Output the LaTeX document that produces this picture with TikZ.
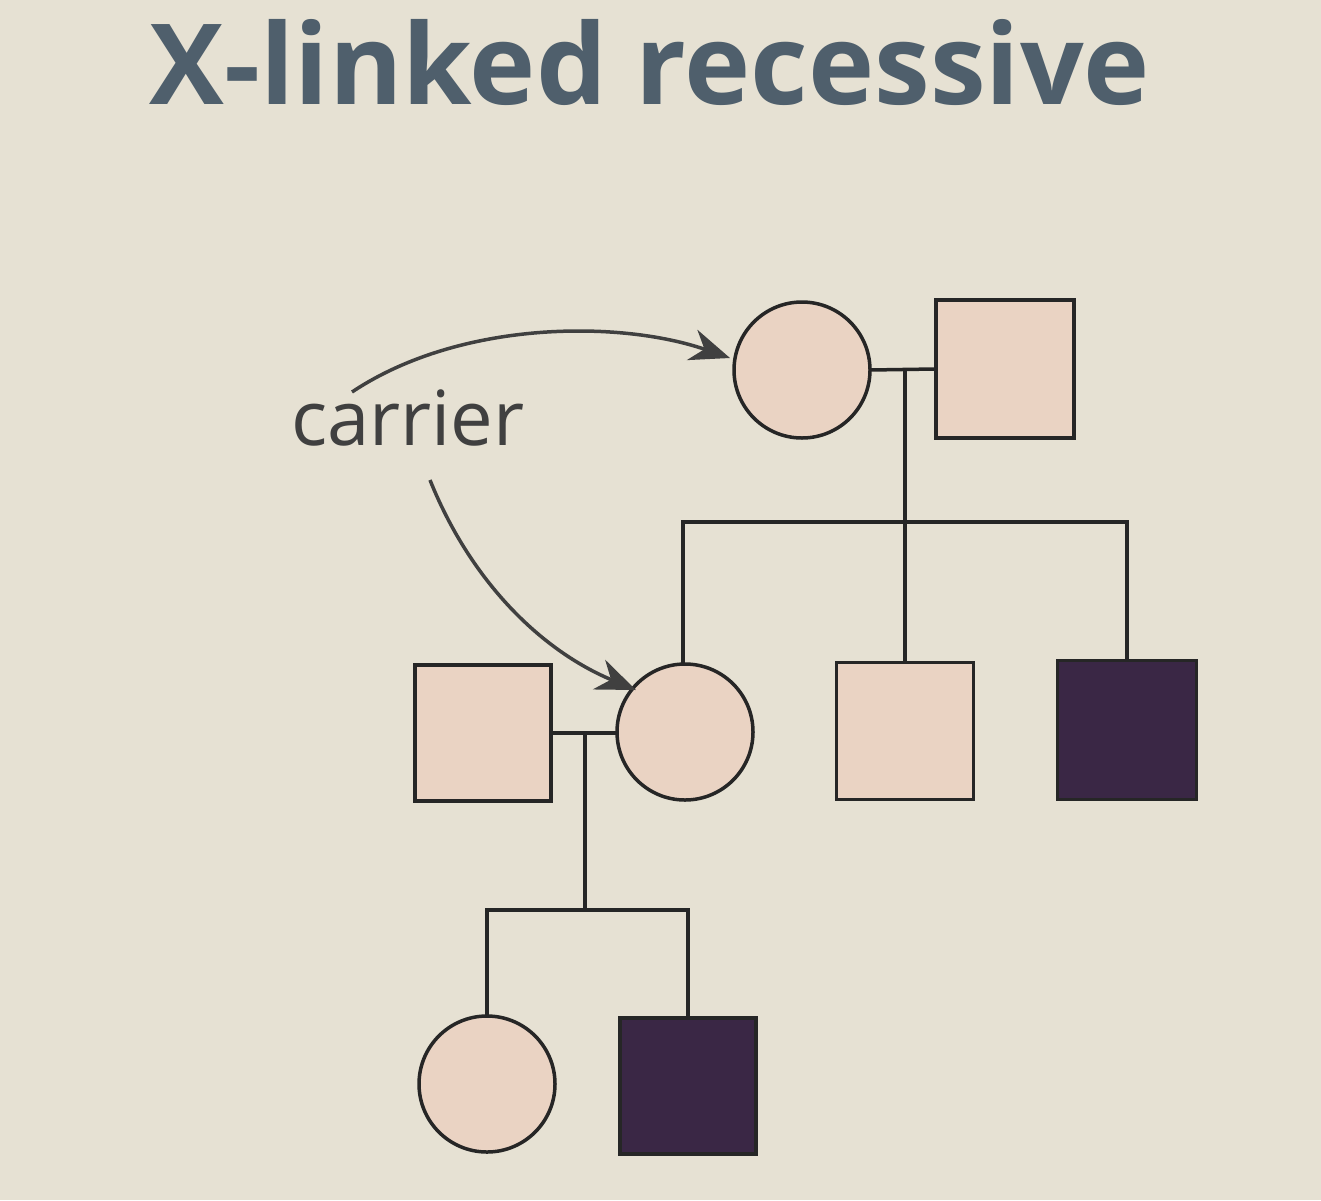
\documentclass[tikz,border=0pt]{standalone}
\usepackage{fontspec}
\setmainfont{Open Sans}
\usetikzlibrary{arrows.meta}
\begin{document}
\begin{tikzpicture}[x=1pt,y=-1pt,
  ind/.style={draw=black!85,line width=3.5pt,fill=pinkf},
  aff/.style={draw=black!85,line width=3.5pt,fill=darkf},
  ln/.style={draw=black!85,line width=3.5pt},
  arr/.style={draw=black!75,line width=3.5pt,-{Stealth[length=40pt,width=32pt]}}]
\definecolor{bg}{HTML}{E6E1D3}
\definecolor{pinkf}{HTML}{EAD3C3}
\definecolor{darkf}{HTML}{3A2745}
\definecolor{titlec}{HTML}{4F5F6C}
\fill[bg] (0,0) rectangle (1321,1200);
\useasboundingbox (0,0) rectangle (1321,1200);
\node[text=titlec,font=\fontsize{112}{120}\selectfont\bfseries] (title) at (650,62) {X-linked recessive};
\node[text=black!75,font=\fontsize{76}{80}\selectfont] (car) at (408,418) {carrier};
% gen 1
\draw[ind] (802,370) circle (68);
\coordinate (c1) at (802,370);
\node[ind,minimum size=138pt,inner sep=0] (s1) at (1005,369) {};
% gen 2
\draw[ind] (685,732) circle (68);
\node[ind,minimum size=136pt,inner sep=0] (s2) at (483,733) {};
\node[ind,minimum size=137pt,inner sep=0] (s3) at (905,731) {};
\node[aff,minimum size=139pt,inner sep=0] (s4) at (1127,730) {};
% gen 3
\draw[ind] (487,1084) circle (68);
\node[aff,minimum size=136pt,inner sep=0] (s5) at (688,1086) {};
% lines
\draw[ln] (870,370) -- (s1.west);
\draw[ln] (905,370) -- (905,522);
\draw[ln] (683,664) -- (683,522) -- (1127,522) -- (s4.north);
\draw[ln] (905,522) -- (s3.north);
\draw[ln] (s2.east |- 0,733) -- (617,733);
\draw[ln] (585,733) -- (585,910);
\draw[ln] (487,1016) -- (487,910) -- (688,910) -- (s5.north);
% arrows
\draw[arr] (352,392) .. controls (460,320) and (620,320) .. (730,358);
\draw[arr] (430,480) .. controls (470,580) and (540,650) .. (636,690);
\end{tikzpicture}
\end{document}
